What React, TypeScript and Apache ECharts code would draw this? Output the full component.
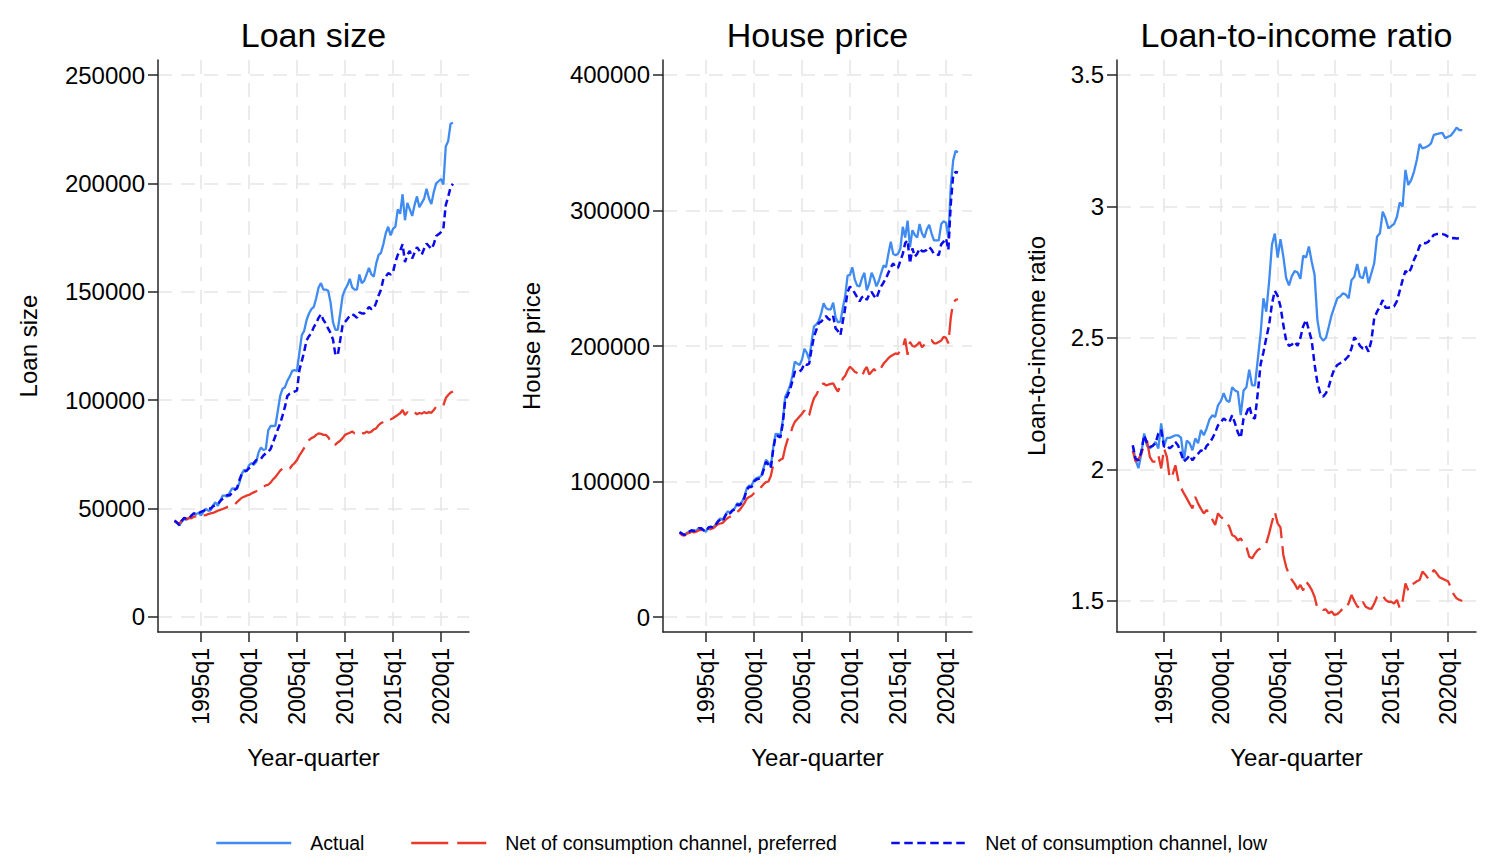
import React, { useEffect, useRef } from "react";
import * as echarts from "echarts";

// First observation 1992q2, last 2021q2 (quarterly)
const FIRST_YEAR = 1992;
const FIRST_QUARTER = 2;

const xTickYears = [1995, 2000, 2005, 2010, 2015, 2020];
const xTickLabels = ["1995q1", "2000q1", "2005q1", "2010q1", "2015q1", "2020q1"];

const loanTicks = [0, 50000, 100000, 150000, 200000, 250000];
const priceTicks = [0, 100000, 200000, 300000, 400000];
const ltiTicks = [1.5, 2, 2.5, 3, 3.5];

const panelTitles = ["Loan size", "House price", "Loan-to-income ratio"];
const yAxisNames = ["Loan size", "House price", "Loan-to-income ratio"];
const xAxisName = "Year-quarter";
const seriesNames = [
  "Actual",
  "Net of consumption channel, preferred",
  "Net of consumption channel, low",
];

// ---------- Loan size ----------
const loanActual = [
  44300, 43500, 42200,
  44000, 45200, 45000, 45500,
  46500, 47800, 47500, 48000,
  46900, 48500, 50000, 49000,
  49200, 51500, 52900, 51300,
  53500, 56000, 56000, 55500,
  57500, 59300, 59200, 59000,
  62000, 66000, 67900, 67200,
  70000, 71000, 70200, 71500,
  76000, 78200, 77000, 77500,
  86000, 88100, 88100, 88200,
  95000, 102000, 105300, 106000,
  109000, 111000, 113500, 113900,
  113500, 122000, 130000, 132000,
  137000, 140000, 142000, 143000,
  147000, 152000, 154000, 151000,
  151000, 150500, 145000, 136000,
  132500, 132500, 140000, 148000,
  151000, 153000, 156000, 152000,
  151000, 151000, 158000, 154000,
  155000, 158000, 161000, 158000,
  157000, 163000, 167000, 168000,
  172000, 177000, 180000, 176000,
  179000, 180000, 188000, 186000,
  195000, 183000, 191000, 188000,
  185000, 190000, 194000, 189000,
  191000, 193000, 197500, 193000,
  190500, 196000, 200000, 201000,
  202000, 199500, 217000, 219500,
  227500, 228000,
];
const loanPreferred = [
  44000, 43500, 43000,
  44500, 45500, 45000, 45800,
  45500, 46200, 46500, 46000,
  46200, 46800, 47000, 47500,
  47800, 48000, 48500, 49000,
  49400, 49800, 50200, 50800,
  51200, 51500, 51700, 53000,
  54000, 55000, 55500, 56000,
  56300, 57000, 57500, 58000,
  58600, 59500, 60000, 60700,
  61000, 62000, 63500, 64500,
  66000, 67500, 68500, 69000,
  68500, 68500, 70000, 71000,
  72400, 74500, 76200, 78000,
  80000, 81600, 82500, 83000,
  84000, 84700, 84500, 84000,
  84000, 83000, 81000, 79300,
  79500, 80500, 81300, 82500,
  84000, 84500, 85000, 85600,
  84700, 85000, 85600, 85000,
  84700, 85500, 85000, 85500,
  86500, 87000, 88500, 89400,
  90000, 91000, 91500, 91200,
  91700, 92500, 93200, 94000,
  95500, 93200, 94500, 93500,
  94000, 94500, 93500, 94100,
  93800, 94500, 94000, 94500,
  94200, 95500, 97000, 97000,
  97500, 97600, 101000, 102400,
  103500, 104000,
];
const loanLow = [
  44600, 43500, 42400,
  44500, 45700, 45200, 45500,
  46800, 47800, 47500, 48000,
  48500, 49000, 49500, 50100,
  50000, 51000, 51600, 52000,
  53500, 54500, 55500, 56300,
  56000, 57500, 58600, 59500,
  63200, 66000, 67000, 67500,
  68600, 69500, 71000, 72400,
  72400, 73000, 74500, 75500,
  76200, 77500, 80500, 83500,
  86500, 89300, 93000, 97000,
  102000, 103000, 103500, 104000,
  104500, 113900, 118000, 122500,
  127600, 129500, 131000, 133700,
  135500, 138000, 139700, 137000,
  135400, 133000, 131000, 128000,
  121000, 120800, 127600, 134500,
  136000, 137500, 139000, 139700,
  139000, 138000, 140500, 140000,
  140000, 141500, 143000, 142000,
  142200, 145000, 148300, 151000,
  156000, 157000, 158600, 158000,
  159000, 163700, 167000, 168900,
  172000, 163700, 167000, 168900,
  165400, 168000, 170600, 169000,
  167200, 170000, 172300, 171000,
  169700, 172000, 175700, 176500,
  177500, 179200, 190000, 193800,
  198200, 199800,
];

// ---------- House price ----------
const priceActual = [
  63000, 61500, 60500,
  62000, 63000, 64000, 63500,
  64000, 65500, 65500, 64000,
  63000, 66000, 66700, 66000,
  68000, 71000, 72800, 71500,
  75000, 78000, 77000, 79000,
  80200, 83900, 83000, 85000,
  88800, 95000, 97000, 97000,
  101000, 102500, 103000, 104000,
  110000, 116000, 114000, 111000,
  125000, 135200, 135000, 134000,
  145000, 162600, 166000, 170800,
  178000, 188500, 187000, 186000,
  190000, 198000, 195000, 190000,
  203000, 214500, 216000, 218600,
  224000, 231500, 228000, 227000,
  227000, 232000, 221000, 217500,
  218000, 228000, 237000, 252000,
  252500, 258000, 249000, 244500,
  244000, 250000, 254000, 241000,
  246000, 254000, 250000, 244000,
  248000, 254000, 259500, 258000,
  268000, 277000, 268000, 267000,
  268000, 272000, 288000, 280000,
  292500, 273000, 285500, 282000,
  280000, 290000, 283000, 280000,
  286000, 289500, 283000, 278000,
  278000, 278000, 290000, 292000,
  291000, 280000, 318000, 337000,
  344000, 343000,
];
const pricePreferred = [
  62000, 60500, 60000,
  61500, 62000, 63000, 62500,
  63000, 64000, 64500, 63000,
  62500, 64000, 65000, 65500,
  67000, 68500, 69000, 69500,
  71500, 73000, 74000, 75000,
  76500, 77500, 79000, 81400,
  84000, 87500, 88500, 89500,
  91300, 92500, 94000, 96000,
  98000, 99500, 100000, 104000,
  112000, 113500, 114800, 116000,
  117000, 125000, 131000, 134000,
  140000, 144000, 146000, 148000,
  150000, 152500, 148000, 149000,
  156000, 161500, 164000, 168000,
  171000, 172500, 171000, 171500,
  172000, 172500, 169000, 166300,
  171000, 176000, 178000, 182000,
  184700, 183000, 181000, 180000,
  179000, 177500, 182000, 184500,
  179000, 181000, 183000, 181000,
  181000, 184000, 187000, 189000,
  191000, 192500, 193500, 194500,
  194000, 197000, 199000, 205500,
  193500, 203000, 200000, 199500,
  201000, 203000, 199000, 201000,
  203000, 204000, 204300, 202000,
  202000, 203000, 204000, 206800,
  206000, 202000, 221000, 232000,
  234000, 234500,
];
const priceLow = [
  62500, 61500, 60500,
  62000, 63000, 64000, 63500,
  64000, 65500, 65500, 64000,
  63000, 66000, 66500, 66000,
  68000, 70500, 72000, 71000,
  74500, 77500, 76500, 78500,
  79500, 83000, 82500, 84500,
  88000, 94000, 96000, 96000,
  100000, 101500, 102000, 103000,
  108500, 114500, 112500, 110000,
  123500, 133500, 133500, 132500,
  143000, 160000, 163500, 168000,
  174000, 181000, 180500, 181000,
  183000, 187000, 186000, 187000,
  198000, 207000, 212000, 217000,
  218000, 220000, 222000, 220000,
  219000, 222000, 213000, 211000,
  208000, 218000, 228000, 240000,
  243800, 242000, 239000, 236000,
  233000, 236000, 237000, 234000,
  238000, 240000, 237000, 235000,
  240000, 244000, 247000, 250000,
  254000, 258000, 261000, 258000,
  257600, 263000, 268000, 276000,
  278000, 261000, 272000, 266000,
  268000, 272000, 270000, 270000,
  271000, 273000, 271000, 268000,
  268000, 267000, 275000, 277000,
  279500, 271000, 305000, 326000,
  328500, 328000,
];

// ---------- Loan-to-income ratio ----------
const ltiActual = [
  2.09, 2.035, 2.005,
  2.06, 2.137, 2.09, 2.08,
  2.09, 2.105, 2.08, 2.175,
  2.09, 2.12, 2.12, 2.125,
  2.13, 2.13, 2.12, 2.035,
  2.11, 2.1, 2.073, 2.118,
  2.1, 2.15, 2.13, 2.156,
  2.19, 2.206, 2.2, 2.244,
  2.26, 2.29, 2.263, 2.256,
  2.313, 2.3, 2.295, 2.207,
  2.3, 2.313, 2.379, 2.32,
  2.32, 2.418, 2.517, 2.651,
  2.6, 2.714, 2.855, 2.897,
  2.806, 2.876, 2.81, 2.728,
  2.7, 2.735, 2.754, 2.75,
  2.725, 2.813, 2.806, 2.848,
  2.79, 2.74, 2.568, 2.505,
  2.49, 2.5, 2.543, 2.587,
  2.619, 2.651, 2.658, 2.67,
  2.665, 2.651, 2.72, 2.733,
  2.781, 2.733, 2.727, 2.771,
  2.708, 2.746, 2.784, 2.885,
  2.898, 2.98, 2.955, 2.917,
  2.925, 2.934, 2.961, 3.015,
  3.0, 3.139, 3.082, 3.1,
  3.132, 3.177, 3.238, 3.221,
  3.225, 3.23, 3.24, 3.272,
  3.275, 3.278, 3.28, 3.26,
  3.265, 3.27, 3.284, 3.3,
  3.29, 3.29,
];
const ltiPreferred = [
  2.07, 2.03, 2.04,
  2.06, 2.092, 2.11, 2.048,
  2.03, 2.03, 2.054, 2.004,
  2.08, 2.048, 1.966, 1.98,
  2.016, 1.96, 1.93, 1.909,
  1.89, 1.87, 1.852, 1.896,
  1.87, 1.85, 1.833, 1.846,
  1.83, 1.81, 1.789, 1.833,
  1.82, 1.81, 1.8, 1.782,
  1.75, 1.745, 1.73, 1.738,
  1.72, 1.706, 1.668, 1.662,
  1.68, 1.694, 1.7, 1.71,
  1.719, 1.757, 1.8, 1.839,
  1.795, 1.78, 1.675, 1.63,
  1.6, 1.58, 1.565, 1.545,
  1.561, 1.54, 1.574, 1.56,
  1.542, 1.516, 1.472, 1.47,
  1.466, 1.468, 1.453, 1.46,
  1.447, 1.45, 1.46, 1.472,
  1.47, 1.491, 1.523, 1.5,
  1.48, 1.472, 1.497, 1.478,
  1.472, 1.47, 1.49, 1.516,
  1.525, 1.52, 1.504, 1.497,
  1.497, 1.49, 1.504, 1.472,
  1.5, 1.567, 1.54, 1.561,
  1.567, 1.575, 1.58, 1.612,
  1.6, 1.585, 1.6, 1.618,
  1.605, 1.59, 1.585, 1.58,
  1.575, 1.55, 1.525, 1.51,
  1.504, 1.5,
];
const ltiLow = [
  2.092, 2.04, 2.035,
  2.067, 2.13, 2.1, 2.086,
  2.09, 2.1, 2.137, 2.15,
  2.086, 2.09, 2.08, 2.09,
  2.105, 2.09, 2.06, 2.03,
  2.04, 2.054, 2.035, 2.05,
  2.06, 2.073, 2.067, 2.09,
  2.1, 2.118, 2.14, 2.168,
  2.18, 2.194, 2.185, 2.18,
  2.206, 2.175, 2.14, 2.12,
  2.194, 2.213, 2.242, 2.2,
  2.193, 2.29, 2.4, 2.446,
  2.5, 2.55, 2.63, 2.679,
  2.66, 2.62, 2.55, 2.49,
  2.47, 2.475, 2.486, 2.47,
  2.5, 2.545, 2.569, 2.53,
  2.49, 2.4, 2.33, 2.29,
  2.277, 2.29, 2.315, 2.353,
  2.383, 2.397, 2.404, 2.41,
  2.42, 2.432, 2.46, 2.503,
  2.49, 2.47, 2.46, 2.47,
  2.448, 2.49, 2.575, 2.6,
  2.619, 2.644, 2.615, 2.615,
  2.618, 2.62, 2.64, 2.68,
  2.72, 2.755, 2.745, 2.765,
  2.797, 2.82, 2.85, 2.862,
  2.86, 2.865, 2.879, 2.892,
  2.895, 2.895, 2.895, 2.892,
  2.885, 2.879, 2.88, 2.878,
  2.879, 2.876,
];

const FONT = "'Liberation Sans', Arial, Helvetica, sans-serif";
const COLORS = ["#3f8bf2", "#e8392b", "#0a0af0"];
const LINE_STYLES: any[] = [
  { width: 2.3, type: "solid" },
  { width: 2.3, type: [26, 8] },
  { width: 2.5, type: [7, 4] },
];
const LEGEND_DASHES: any[] = ["solid", [37, 9], [8.5, 4.5]];

const toPoints = (arr: number[]) =>
  arr.map((v, i) => [FIRST_YEAR + (FIRST_QUARTER - 1 + i) / 4, v]);

const GRIDS = [
  { left: 158, top: 60, width: 311, height: 572 },
  { left: 663, top: 60, width: 309, height: 572 },
  { left: 1117, top: 60, width: 359, height: 572 },
];
const X_RANGES = [
  [1990.52, 2022.92],
  [1990.52, 2022.71],
  [1990.86, 2022.46],
];
const Y_RANGES = [
  [-6919, 256919],
  [-11070, 411070],
  [1.382, 3.557],
];
const Y_TICKS = [loanTicks, priceTicks, ltiTicks];
const Y_NAME_GAPS = [118, 120, 69];
const PANEL_DATA = [
  [loanActual, loanPreferred, loanLow],
  [priceActual, pricePreferred, priceLow],
  [ltiActual, ltiPreferred, ltiLow],
];

export default function App() {
  const ref = useRef<HTMLDivElement>(null);

  useEffect(() => {
    document.body.style.margin = "0";
    if (!ref.current) return;
    const chart = echarts.init(ref.current, null, { renderer: "svg" });

    const gridLine = { show: true, lineStyle: { color: "#e6e6e6", width: 1.6, type: [14, 9] } };
    const axisLineStyle = { color: "#262626", width: 1.5 };

    const xAxes = GRIDS.map((_, p) => ({
      type: "value",
      gridIndex: p,
      min: X_RANGES[p][0],
      max: X_RANGES[p][1],
      axisLine: { show: true, onZero: false, lineStyle: axisLineStyle },
      axisTick: { show: true, length: 10, customValues: xTickYears, lineStyle: axisLineStyle },
      axisLabel: {
        show: true,
        customValues: xTickYears,
        rotate: 90,
        margin: 16,
        fontSize: 23,
        color: "#000",
        fontFamily: FONT,
        formatter: (v: number) => {
          const idx = xTickYears.indexOf(Math.round(v));
          return idx >= 0 ? xTickLabels[idx] : "";
        },
      },
      splitLine: gridLine,
      name: xAxisName,
      nameLocation: "middle",
      nameGap: 113,
      nameTextStyle: { fontSize: 24, color: "#000", fontFamily: FONT },
    }));

    const yAxes = GRIDS.map((_, p) => ({
      type: "value",
      gridIndex: p,
      min: Y_RANGES[p][0],
      max: Y_RANGES[p][1],
      axisLine: { show: true, onZero: false, lineStyle: axisLineStyle },
      axisTick: { show: true, length: 10, customValues: Y_TICKS[p], lineStyle: axisLineStyle },
      axisLabel: {
        show: true,
        customValues: Y_TICKS[p],
        margin: 13,
        fontSize: 24,
        color: "#000",
        fontFamily: FONT,
        formatter: (v: number) => String(v),
      },
      splitLine: gridLine,
      name: yAxisNames[p],
      nameLocation: "middle",
      nameGap: Y_NAME_GAPS[p],
      nameTextStyle: { fontSize: 24, color: "#000", fontFamily: FONT },
    }));

    const series: any[] = [];
    PANEL_DATA.forEach((panel, p) => {
      panel.forEach((arr, s) => {
        series.push({
          type: "line",
          name: seriesNames[s],
          xAxisIndex: p,
          yAxisIndex: p,
          data: toPoints(arr),
          symbol: "none",
          showSymbol: false,
          smooth: false,
          silent: true,
          color: COLORS[s],
          lineStyle: { color: COLORS[s], ...LINE_STYLES[s] },
          emphasis: { disabled: true },
          z: 2 + s,
        });
      });
    });

    const legendLefts = [215, 410, 890];
    const legends = seriesNames.map((name, i) => ({
      data: [name],
      left: legendLefts[i],
      top: 833,
      padding: 0,
      itemWidth: 75,
      itemHeight: 20,
      selectedMode: false,
      itemStyle: { opacity: 0, borderWidth: 0 },
      lineStyle: { type: LEGEND_DASHES[i], width: 2.5 },
      textStyle: { fontSize: 19.5, color: "#000", fontFamily: FONT, padding: [0, 0, 0, 14] },
    }));

    const titleGraphics = GRIDS.map((g, p) => ({
      type: "text",
      x: g.left + g.width / 2,
      y: 35,
      silent: true,
      style: {
        text: panelTitles[p],
        align: "center",
        verticalAlign: "middle",
        fontSize: 34,
        fontFamily: FONT,
        fill: "#000",
      },
    }));

    chart.setOption({
      animation: false,
      backgroundColor: "#ffffff",
      textStyle: { fontFamily: FONT },
      grid: GRIDS.map((g) => ({ ...g, containLabel: false, outerBoundsMode: "none" })),
      xAxis: xAxes,
      yAxis: yAxes,
      series,
      legend: legends,
      graphic: titleGraphics,
      tooltip: { show: false },
    });

    return () => chart.dispose();
  }, []);

  return <div ref={ref} style={{ width: 1492, height: 861, background: "#fff" }} />;
}
